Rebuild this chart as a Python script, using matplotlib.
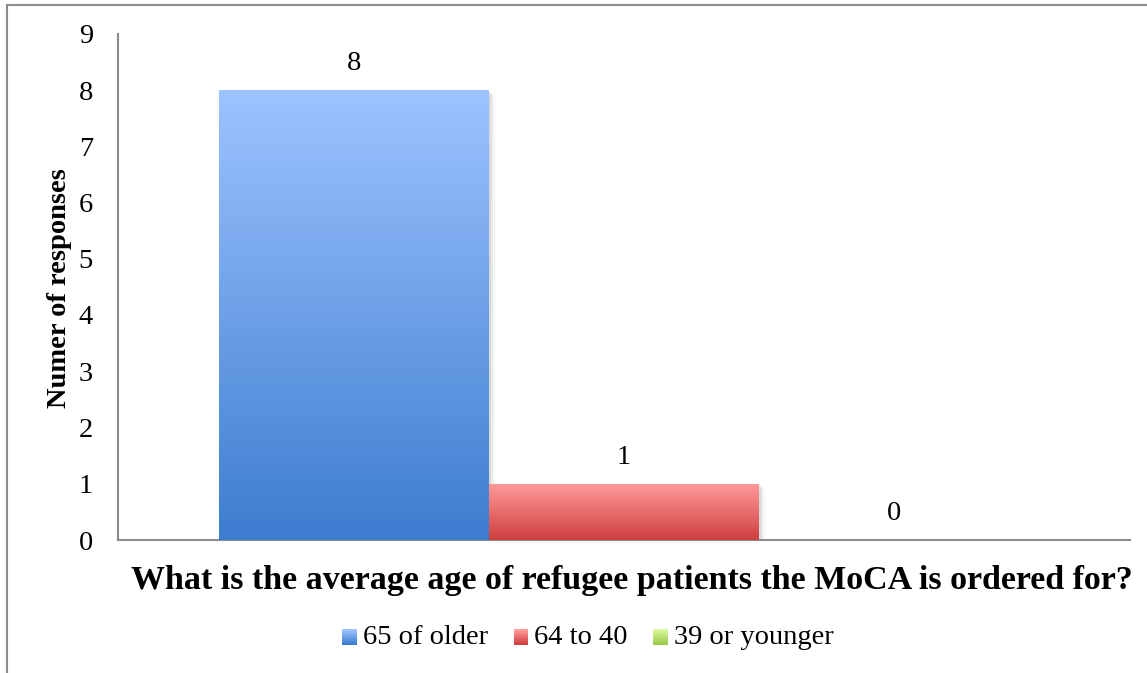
import matplotlib.pyplot as plt
import numpy as np
from matplotlib.colors import LinearSegmentedColormap, to_rgb
from matplotlib.patches import Rectangle
from matplotlib.legend_handler import HandlerBase

# data
question = "What is the average age of refugee patients the MoCA is ordered for?"
series = ["65 of older", "64 to 40", "39 or younger"]
counts = [8, 1, 0]
top_colors = ["#9dc3ff", "#ff9b9b", "#d9f79b"]
bot_colors = ["#3d7dcf", "#cf3f3f", "#9bc94a"]

plt.rcParams['font.family'] = ['Liberation Serif', 'DejaVu Serif']


class GradHandler(HandlerBase):
    # legend swatch drawn as stacked strips, light on top
    def create_artists(self, legend, orig, xd, yd, width, height, fontsize, trans):
        c0 = np.array(to_rgb(orig.top)); c1 = np.array(to_rgb(orig.bot))
        steps = 8
        arts = []
        for k in range(steps):
            t = k / (steps - 1)
            col = c1 * (1 - t) + c0 * t
            r = Rectangle((xd, yd + height * k / steps), width, height / steps + 0.3,
                          facecolor=col, edgecolor="none", transform=trans)
            arts.append(r)
        return arts


fig = plt.figure(figsize=(11.47, 6.73), dpi=100)
W, H = 1147, 673
ax = fig.add_axes([118 / W, 1 - 540 / H, (1130 - 118) / W, (540 - 33.75) / H])

# outer chart border (only left/top visible in crop)
fig.patches.append(Rectangle((7 / W, -0.05), 1.1, 1 - 5 / H + 0.05, transform=fig.transFigure,
                             fill=False, edgecolor="#8c8c8c", linewidth=1.5))

n = len(series)
bw = 0.8 / n
xs = [-0.4 + bw * (i + 0.5) for i in range(n)]

for i in range(n):
    bars = ax.bar(xs[i], counts[i], width=bw, color=bot_colors[i], label=series[i],
                  edgecolor="none", zorder=2)
    b = bars[0]
    if counts[i] > 0:
        # soft shadow
        for k, a in enumerate([0.07, 0.05, 0.03]):
            ax.add_patch(Rectangle((b.get_x() + 0.002 * (k + 1), 0), bw, counts[i] - 0.03 * (k + 1),
                                   facecolor="#000000", alpha=a, edgecolor="none", zorder=1))
        cmap = LinearSegmentedColormap.from_list("g%d" % i, [bot_colors[i], top_colors[i]])
        grad = np.linspace(0, 1, 256).reshape(-1, 1)
        im = ax.imshow(grad, cmap=cmap, origin="lower", aspect="auto",
                       extent=(b.get_x(), b.get_x() + bw, 0, counts[i]), zorder=3)
        im.set_clip_path(b)
    ax.text(xs[i], counts[i] + 0.47, str(counts[i]), ha="center", va="center", fontsize=20.5)

ax.set_xlim(-0.5, 0.5)
ax.set_ylim(0, 9)
ax.set_yticks(range(0, 10))
ax.set_xticks([])
ax.tick_params(axis="y", length=0, labelsize=20.5, pad=18)
for s in ["top", "right"]:
    ax.spines[s].set_visible(False)
for s in ["left", "bottom"]:
    ax.spines[s].set_color("#8c8c8c")
    ax.spines[s].set_linewidth(1.5)

fig.text(60 / W, 1 - 288 / H, "Numer of responses", fontsize=20.5, fontweight="bold",
         rotation=90, ha="center", va="center")
fig.text(632 / W, 1 - 580 / H, question, fontsize=24.5, fontweight="bold",
         ha="center", va="center")

# legend with small gradient swatches
handles = []
for i in range(n):
    h = Rectangle((0, 0), 1, 1, facecolor=bot_colors[i], edgecolor="none")
    h.top = top_colors[i]
    h.bot = bot_colors[i]
    handles.append(h)
fig.legend(handles, series, loc="center", bbox_to_anchor=(588 / W, 1 - 637 / H), ncol=3,
           frameon=False, fontsize=20.5, handlelength=0.5, handleheight=0.5,
           handletextpad=0.22, columnspacing=0.9,
           handler_map={Rectangle: GradHandler()})

fig.savefig("out.png", dpi=100)
